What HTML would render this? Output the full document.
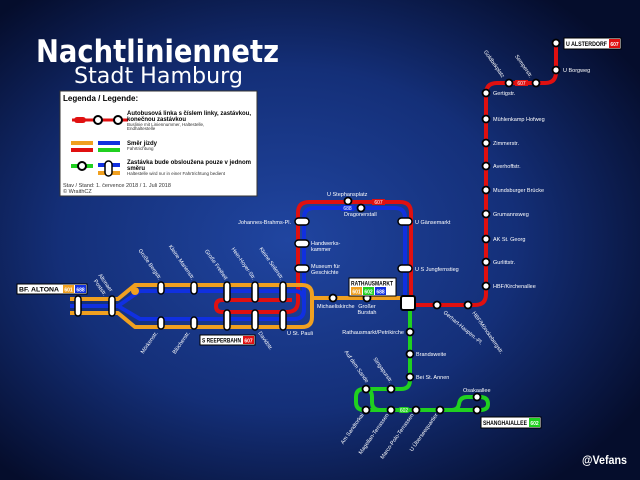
<!DOCTYPE html>
<html><head><meta charset="utf-8"><style>
html,body{margin:0;padding:0;width:640px;height:480px;overflow:hidden;background:#0b1a4a}
svg{display:block;font-family:"Liberation Sans",sans-serif}
</style></head><body>
<svg width="640" height="480" viewBox="0 0 640 480" xmlns="http://www.w3.org/2000/svg">
<defs>
<radialGradient id="bg" cx="45%" cy="50%" r="65%">
<stop offset="0" stop-color="#2045a0"/><stop offset="0.55" stop-color="#142f78"/><stop offset="1" stop-color="#050d2c"/>
</radialGradient>
</defs>
<rect width="640" height="480" fill="url(#bg)"/>

<text x="36" y="62" font-size="31" font-weight="bold" fill="#fff" font-family="'DejaVu Sans',sans-serif" textLength="243" lengthAdjust="spacingAndGlyphs">Nachtliniennetz</text>
<text x="74" y="83" font-size="22" fill="#fff" font-family="'DejaVu Sans',sans-serif" textLength="169" lengthAdjust="spacingAndGlyphs">Stadt Hamburg</text>

<rect x="60" y="91" width="197" height="105" fill="#fff" stroke="#333" stroke-width="1"/>
<text x="63" y="101" font-size="8" font-weight="bold" fill="#000">Legenda / Legende:</text>
<line x1="72" y1="120" x2="128" y2="120" stroke="#e01010" stroke-width="3"/>
<rect x="74" y="117" width="12" height="6" rx="3" fill="#e01010"/>
<circle cx="98" cy="120" r="4" fill="#fff" stroke="#000" stroke-width="2"/>
<circle cx="118" cy="120" r="4" fill="#fff" stroke="#000" stroke-width="2"/>
<text x="127" y="115" font-size="6" font-weight="bold" fill="#000" textLength="124" lengthAdjust="spacingAndGlyphs">Autobusová linka s číslem linky, zastávkou,</text>
<text x="127" y="121" font-size="6" font-weight="bold" fill="#000">konečnou zastávkou</text>
<text x="127" y="126" font-size="4.5" fill="#333">Buslinie mit Liniennummer, Haltestelle,</text>
<text x="127" y="130" font-size="4.5" fill="#333">Endhaltestelle</text>
<rect x="71" y="141" width="22" height="4" fill="#f0a020"/><rect x="98" y="141" width="22" height="4" fill="#1030e0"/>
<rect x="71" y="148" width="22" height="4" fill="#e01010"/><rect x="98" y="148" width="22" height="4" fill="#20d020"/>
<text x="127" y="145" font-size="6" font-weight="bold" fill="#000">Směr jízdy</text>
<text x="127" y="150" font-size="4.5" fill="#333">Fahrtrichtung</text>
<line x1="71" y1="166" x2="93" y2="166" stroke="#20d020" stroke-width="4"/>
<circle cx="82" cy="166" r="4" fill="#fff" stroke="#000" stroke-width="2"/>
<rect x="98" y="163" width="22" height="4" fill="#1030e0"/><rect x="98" y="171" width="22" height="4" fill="#f0a020"/>
<rect x="105" y="161" width="7" height="15" rx="3.5" fill="#fff" stroke="#000" stroke-width="1.5"/>
<text x="127" y="164" font-size="6" font-weight="bold" fill="#000" textLength="124" lengthAdjust="spacingAndGlyphs">Zastávka bude obsloužena pouze v jednom</text>
<text x="127" y="170" font-size="6" font-weight="bold" fill="#000">směru</text>
<text x="127" y="175" font-size="4.5" fill="#333">Haltestelle wird nur in einer Fahrtrichtung bedient</text>
<text x="63" y="187" font-size="5.5" fill="#333">Stav / Stand: 1. července 2018 / 1. Juli 2018</text>
<text x="63" y="193" font-size="5.5" fill="#333">© WraithCZ</text>

<g fill="none" stroke-linejoin="round">
<path d="M556 43 V72 Q556 83 545 83 H497 Q486 83 486 94 V294 Q486 305 475 305 H411" stroke="#e01010" stroke-width="4"/>
<path d="M411 305 V213 Q411 202 400 202 H309 Q298 202 298 213 V301 Q298 312 287 312 H222 Q216 312 216 306 Q216 300 222 300 H292" stroke="#e01010" stroke-width="4"/>
<path d="M405 303 V218 Q405 208 395 208 H314 Q304 208 304 218 V309 Q304 319 294 319 H140 L118 306 H70 M118 306 L140 291 H294 Q304 291 304 301" stroke="#1030e0" stroke-width="4"/>
<path d="M70 299 H118 L135 285 H302 Q312 285 312 295 V317 Q312 327 302 327 H135 L118 313 H70 M312 298 H405" stroke="#f0a020" stroke-width="4"/>
<path d="M410 305 V380 Q410 389 401 389 H364 Q356 389 356 397 V402 Q356 410 364 410 H452 Q458 410 459 404 Q460 397 467 397 H480 Q488 397 488 404 Q488 410 480 410 H452 M364 389 Q372 389 372 397 V402 Q372 410 380 410" stroke="#20d020" stroke-width="4"/>
</g>

<rect x="401" y="296" width="14" height="14" rx="2" fill="#fff" stroke="#000" stroke-width="2"/>

<g fill="#fff" stroke="#000" stroke-width="1.8">
<circle cx="556" cy="43" r="3.5"/><circle cx="556" cy="70" r="3.5"/>
<circle cx="509" cy="83" r="3.5"/><circle cx="536" cy="83" r="3.5"/>
<circle cx="486" cy="93" r="3.5"/><circle cx="486" cy="119" r="3.5"/><circle cx="486" cy="143" r="3.5"/><circle cx="486" cy="166" r="3.5"/><circle cx="486" cy="190" r="3.5"/><circle cx="486" cy="214" r="3.5"/><circle cx="486" cy="239" r="3.5"/><circle cx="486" cy="262" r="3.5"/><circle cx="486" cy="286" r="3.5"/>
<circle cx="468" cy="305" r="3.5"/><circle cx="437" cy="305" r="3.5"/>
<circle cx="348" cy="201" r="3.5"/><circle cx="361" cy="208" r="3.5"/>
<circle cx="333" cy="298" r="3.5"/><circle cx="367" cy="298" r="3.5"/>
<circle cx="410" cy="332" r="3.5"/><circle cx="410" cy="354" r="3.5"/><circle cx="410" cy="377" r="3.5"/>
<circle cx="391" cy="389" r="3.5"/><circle cx="366" cy="389" r="3.5"/>
<circle cx="366" cy="410" r="3.5"/><circle cx="391" cy="410" r="3.5"/><circle cx="416" cy="410" r="3.5"/><circle cx="440" cy="410" r="3.5"/><circle cx="477" cy="410" r="3.5"/><circle cx="477" cy="397" r="3.5"/>
</g>
<g fill="#fff" stroke="#000" stroke-width="1.5">
<rect x="295" y="218" width="14" height="7" rx="3.5"/><rect x="295" y="240" width="14" height="7" rx="3.5"/><rect x="295" y="265" width="14" height="7" rx="3.5"/>
<rect x="398" y="218" width="14" height="7" rx="3.5"/><rect x="398" y="265" width="14" height="7" rx="3.5"/>
<rect x="75" y="296" width="6" height="20" rx="3"/><rect x="109" y="296" width="6" height="20" rx="3"/>
<rect x="158" y="282" width="6" height="12" rx="3"/><rect x="191" y="282" width="6" height="12" rx="3"/><rect x="224" y="282" width="6" height="20" rx="3"/><rect x="252" y="282" width="6" height="20" rx="3"/><rect x="280" y="282" width="6" height="20" rx="3"/>
<rect x="158" y="317" width="6" height="12" rx="3"/><rect x="191" y="317" width="6" height="12" rx="3"/><rect x="224" y="310" width="6" height="20" rx="3"/><rect x="252" y="310" width="6" height="20" rx="3"/><rect x="280" y="310" width="6" height="20" rx="3"/>
</g>
<circle cx="135" cy="291" r="4" fill="#f0a020"/>

<rect x="341" y="205" width="13" height="6" fill="#1030e0"/><text x="347.5" y="210" font-size="5" fill="#fff" text-anchor="middle">688</text>
<rect x="372" y="199" width="13" height="6" fill="#e01010"/><text x="378.5" y="204" font-size="5" fill="#fff" text-anchor="middle">607</text>
<rect x="515" y="80" width="13" height="6" fill="#e01010"/><text x="521.5" y="85" font-size="5" fill="#fff" text-anchor="middle">607</text>
<rect x="398" y="407" width="12" height="6" rx="3" fill="#20d020"/><text x="404" y="412" font-size="5" fill="#fff" text-anchor="middle">602</text>

<g font-size="6" font-weight="bold">
<rect x="17" y="284" width="70" height="10" fill="#fff" stroke="#000"/><text x="19" y="291.5" fill="#000" textLength="40" lengthAdjust="spacingAndGlyphs">BF. ALTONA</text>
<rect x="63" y="285" width="11" height="8" fill="#f0a020"/><text x="68.5" y="291.5" fill="#fff" text-anchor="middle" font-size="5">601</text>
<rect x="75" y="285" width="11" height="8" fill="#1030e0"/><text x="80.5" y="291.5" fill="#fff" text-anchor="middle" font-size="5">688</text>
<rect x="200" y="335" width="55" height="10" fill="#fff" stroke="#000"/><text x="202" y="342.5" fill="#000" textLength="39" lengthAdjust="spacingAndGlyphs">S REEPERBAHN</text>
<rect x="243" y="336" width="11" height="8" fill="#e01010"/><text x="248.5" y="342.5" fill="#fff" text-anchor="middle" font-size="5">607</text>
<rect x="349" y="278" width="47" height="18" fill="#fff" stroke="#000"/><text x="351" y="285.5" fill="#000" textLength="42" lengthAdjust="spacingAndGlyphs">RATHAUSMARKT</text>
<rect x="351" y="287" width="11" height="8" fill="#f0a020"/><text x="356.5" y="293.5" fill="#fff" text-anchor="middle" font-size="5">601</text>
<rect x="363" y="287" width="11" height="8" fill="#20d020"/><text x="368.5" y="293.5" fill="#fff" text-anchor="middle" font-size="5">602</text>
<rect x="375" y="287" width="11" height="8" fill="#1030e0"/><text x="380.5" y="293.5" fill="#fff" text-anchor="middle" font-size="5">688</text>
<rect x="564" y="38" width="57" height="11" fill="#fff" stroke="#000"/><text x="566" y="46" fill="#000" textLength="41" lengthAdjust="spacingAndGlyphs">U ALSTERDORF</text>
<rect x="609" y="39" width="11" height="9" fill="#e01010"/><text x="614.5" y="46" fill="#fff" text-anchor="middle" font-size="5">607</text>
<rect x="481" y="417" width="60" height="11" fill="#fff" stroke="#000"/><text x="483" y="425" fill="#000" textLength="44" lengthAdjust="spacingAndGlyphs">SHANGHAIALLEE</text>
<rect x="529" y="418" width="11" height="9" fill="#20d020"/><text x="534.5" y="425" fill="#fff" text-anchor="middle" font-size="5">602</text>
</g>

<g font-size="5.5" fill="#fff">
<text x="563" y="72">U Borgweg</text>
<text x="493" y="95">Gertigstr.</text><text x="493" y="121">Mühlenkamp Hofweg</text><text x="493" y="145">Zimmerstr.</text><text x="493" y="168">Averhoffstr.</text><text x="493" y="192">Mundsburger Brücke</text><text x="493" y="216">Grumannsweg</text><text x="493" y="241">AK St. Georg</text><text x="493" y="264">Gurlittstr.</text><text x="493" y="288">HBF/Kirchenallee</text>
<text x="327" y="196">U Stephansplatz</text><text x="344" y="216">Dragonerstall</text>
<text x="415" y="224">U Gänsemarkt</text><text x="415" y="271">U S Jungfernstieg</text>
<text x="291" y="224" text-anchor="end">Johannes-Brahms-Pl.</text>
<text x="311" y="245">Handwerks-</text><text x="311" y="251">kammer</text>
<text x="311" y="268">Museum für</text><text x="311" y="274">Geschichte</text>
<text x="317" y="308">Michaeliskirche</text><text x="367" y="308" text-anchor="middle">Großer</text><text x="367" y="314" text-anchor="middle">Burstah</text>
<text x="287" y="335">U St. Pauli</text>
<text x="404" y="334" text-anchor="end">Rathausmarkt/Petrikirche</text>
<text x="416" y="356">Brandsweite</text><text x="416" y="379">Bei St. Annen</text>
<text x="463" y="392">Osakaallee</text>
<text transform="translate(443,313) rotate(40)">Gerhart-Hauptm.-Pl.</text>
<text transform="translate(472,313) rotate(55)">HBF/Mönckebergstr.</text>
<text transform="translate(502,78) rotate(55)" text-anchor="end">Goldbekplatz</text>
<text transform="translate(530,78) rotate(55)" text-anchor="end">Semperstr.</text>
<text transform="translate(159,280) rotate(55)" text-anchor="end">Große Bergstr.</text>
<text transform="translate(192,280) rotate(55)" text-anchor="end">Kleine Marienstr.</text>
<text transform="translate(225,280) rotate(55)" text-anchor="end">Große Freiheit</text>
<text transform="translate(253,280) rotate(55)" text-anchor="end">Hein-Hoyer-Str.</text>
<text transform="translate(281,280) rotate(55)" text-anchor="end">Kleine Seilerstr.</text>
<text transform="translate(110,292) rotate(55)" text-anchor="end">Altonaer</text>
<text transform="translate(104,296) rotate(55)" text-anchor="end">Poststr.</text>
<text transform="translate(158,333) rotate(-55)" text-anchor="end">Mörkenstr.</text>
<text transform="translate(190,333) rotate(-55)" text-anchor="end">Blücherstr.</text>
<text transform="translate(258,333) rotate(55)">Davidstr.</text>
<text transform="translate(366,383) rotate(55)" text-anchor="end">Auf dem Sande</text>
<text transform="translate(390,383) rotate(55)" text-anchor="end">Singapurstr.</text>
<text transform="translate(364,415) rotate(-55)" text-anchor="end">Am Sandtorkai</text>
<text transform="translate(389,415) rotate(-55)" text-anchor="end">Magellan-Terrassen</text>
<text transform="translate(414,415) rotate(-55)" text-anchor="end">Marco-Polo-Terrassen</text>
<text transform="translate(438,415) rotate(-55)" text-anchor="end">U Überseequartier</text>
</g>

<text x="582" y="464" font-size="12" font-weight="bold" fill="#fff" textLength="45" lengthAdjust="spacingAndGlyphs">@Vefans</text>
</svg>
</body></html>
